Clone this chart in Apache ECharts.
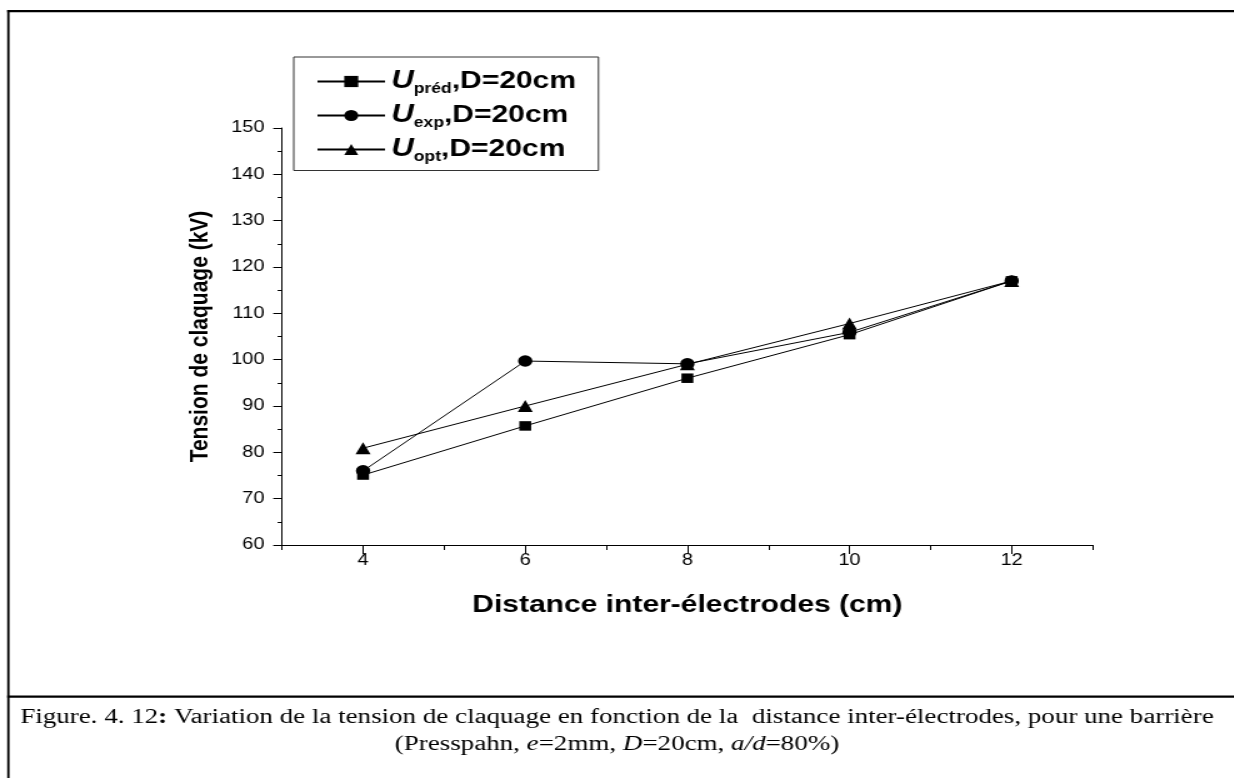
<!DOCTYPE html>
<html>
<head>
<meta charset="utf-8">
<title>Tension de claquage</title>
<script src="https://cdn.jsdelivr.net/npm/echarts@6/dist/echarts.min.js"></script>
<style>
    html, body { margin: 0; padding: 0; background: #fff; overflow: hidden; }
    /* the original figure is stretched sideways, so draw narrower and stretch */
    #main { width: 987px; height: 778px; transform: scaleX(1.25); transform-origin: 0 0; }
</style>
</head>
<body>
<div id="main"></div>
<script>
// distance inter-électrodes (cm)
var distances = [4, 6, 8, 10, 12];
// tension de claquage (kV)
var uPred = [75.1, 85.7, 96.0, 105.4, 117];
var uExp = [76.0, 99.7, 99.1, 105.9, 117];
var uOpt = [80.9, 90.0, 99.0, 107.8, 117];
var xLabelValues = [4, 6, 8, 10, 12];
var subscripts = ['préd', 'exp', 'opt'];
var seriesNames = ['Upréd,D=20cm', 'Uexp,D=20cm', 'Uopt,D=20cm'];

var chart = echarts.init(document.getElementById('main'));

function pairs(ys) {
    return distances.map(function(x, i) { return [x, ys[i]]; });
}

var sans = "'Liberation Sans', Arial, sans-serif";
var serif = "'Liberation Serif', 'Times New Roman', serif";

var option = {
    backgroundColor: '#fff',
    animation: false,
    grid: { left: 225.6, right: 112.8, top: 128, bottom: 233 },
    legend: {
        orient: 'vertical',
        left: 235,
        top: 57,
        padding: [12, 18, 6, 18],
        itemGap: 6.5,
        itemWidth: 54,
        itemHeight: 14,
        borderColor: '#333',
        borderWidth: 1,
        data: seriesNames,
        formatter: function(name) {
            var i = seriesNames.indexOf(name);
            return '{u|U}{s|' + subscripts[i] + '}{t|,D=20cm}';
        },
        textStyle: {
            color: '#000',
            rich: {
                u: { fontFamily: sans, fontSize: 25, fontWeight: 'bold', fontStyle: 'italic', lineHeight: 30, verticalAlign: 'middle' },
                s: { fontFamily: sans, fontSize: 14, fontWeight: 'bold', lineHeight: 11, verticalAlign: 'bottom' },
                t: { fontFamily: sans, fontSize: 24, fontWeight: 'bold', lineHeight: 30, verticalAlign: 'middle' }
            }
        }
    },
    xAxis: [{
        type: 'value',
        min: 3,
        max: 13,
        interval: 1,
        axisLine: { lineStyle: { color: '#000', width: 1 } },
        axisTick: { length: 5, lineStyle: { color: '#000' } },
        axisLabel: { show: false },
        splitLine: { show: false }
    }, {
        type: 'value',
        position: 'bottom',
        min: 3,
        max: 13,
        interval: 1,
        axisLine: { show: false },
        axisTick: { length: 9, customValues: xLabelValues, lineStyle: { color: '#000' } },
        axisLabel: {
            customValues: xLabelValues,
            formatter: function(v) { return v % 2 === 0 ? String(v) : ''; },
            color: '#000', fontFamily: sans, fontSize: 16, margin: 8
        },
        splitLine: { show: false },
        name: 'Distance inter-électrodes (cm)',
        nameLocation: 'middle',
        nameGap: 48,
        nameTextStyle: { color: '#000', fontFamily: sans, fontSize: 24, fontWeight: 'bold' }
    }],
    yAxis: {
        type: 'value',
        min: 60,
        max: 150,
        interval: 10,
        axisLine: { show: true, lineStyle: { color: '#000', width: 1 } },
        axisTick: { show: true, length: 7, lineStyle: { color: '#000' } },
        minorTick: { show: true, splitNumber: 2, length: 3.5, lineStyle: { color: '#000' } },
        axisLabel: { color: '#000', fontFamily: sans, fontSize: 16, margin: 14 },
        splitLine: { show: false },
        name: 'Tension de claquage (kV)',
        nameLocation: 'middle',
        nameGap: 55,
        nameTextStyle: { color: '#000', fontFamily: sans, fontSize: 21, fontWeight: 'bold' }
    },
    series: [{
        name: seriesNames[0],
        type: 'line',
        xAxisIndex: 0,
        data: pairs(uPred),
        symbol: 'rect',
        symbolSize: 9.5,
        itemStyle: { color: '#000' },
        lineStyle: { color: '#000', width: 1 }
    }, {
        name: seriesNames[1],
        type: 'line',
        xAxisIndex: 0,
        data: pairs(uExp),
        symbol: 'circle',
        symbolSize: 11.5,
        itemStyle: { color: '#000' },
        lineStyle: { color: '#000', width: 1 }
    }, {
        name: seriesNames[2],
        type: 'line',
        xAxisIndex: 0,
        data: pairs(uOpt),
        symbol: 'triangle',
        symbolSize: 12,
        itemStyle: { color: '#000' },
        lineStyle: { color: '#000', width: 1 }
    }],
    graphic: [
        // frame of the figure
        { type: 'rect', shape: { x: 5.8, y: 10, width: 990, height: 2.2 }, style: { fill: '#000' } },
        { type: 'rect', shape: { x: 5.8, y: 10, width: 1.8, height: 780 }, style: { fill: '#000' } },
        { type: 'rect', shape: { x: 5.8, y: 695.5, width: 990, height: 2.2 }, style: { fill: '#000' } },
        {
            type: 'text',
            x: 493.6,
            y: 704,
            style: {
                text: '{n|Figure. 4. 12}{b|:}{n| Variation de la tension de claquage en fonction de la  distance inter-électrodes, pour une barrière}\n' +
                      '{n|(Presspahn, }{i|e}{n|=2mm, }{i|D}{n|=20cm, }{i|a/d}{n|=80%)}',
                align: 'center',
                verticalAlign: 'top',
                fill: '#000',
                rich: {
                    n: { fontFamily: serif, fontSize: 21.6, lineHeight: 27, fill: '#000' },
                    b: { fontFamily: serif, fontSize: 21.6, lineHeight: 27, fontWeight: 'bold', fill: '#000' },
                    i: { fontFamily: serif, fontSize: 21.6, lineHeight: 27, fontStyle: 'italic', fill: '#000' }
                }
            }
        }
    ]
};

chart.setOption(option);
</script>
</body>
</html>
